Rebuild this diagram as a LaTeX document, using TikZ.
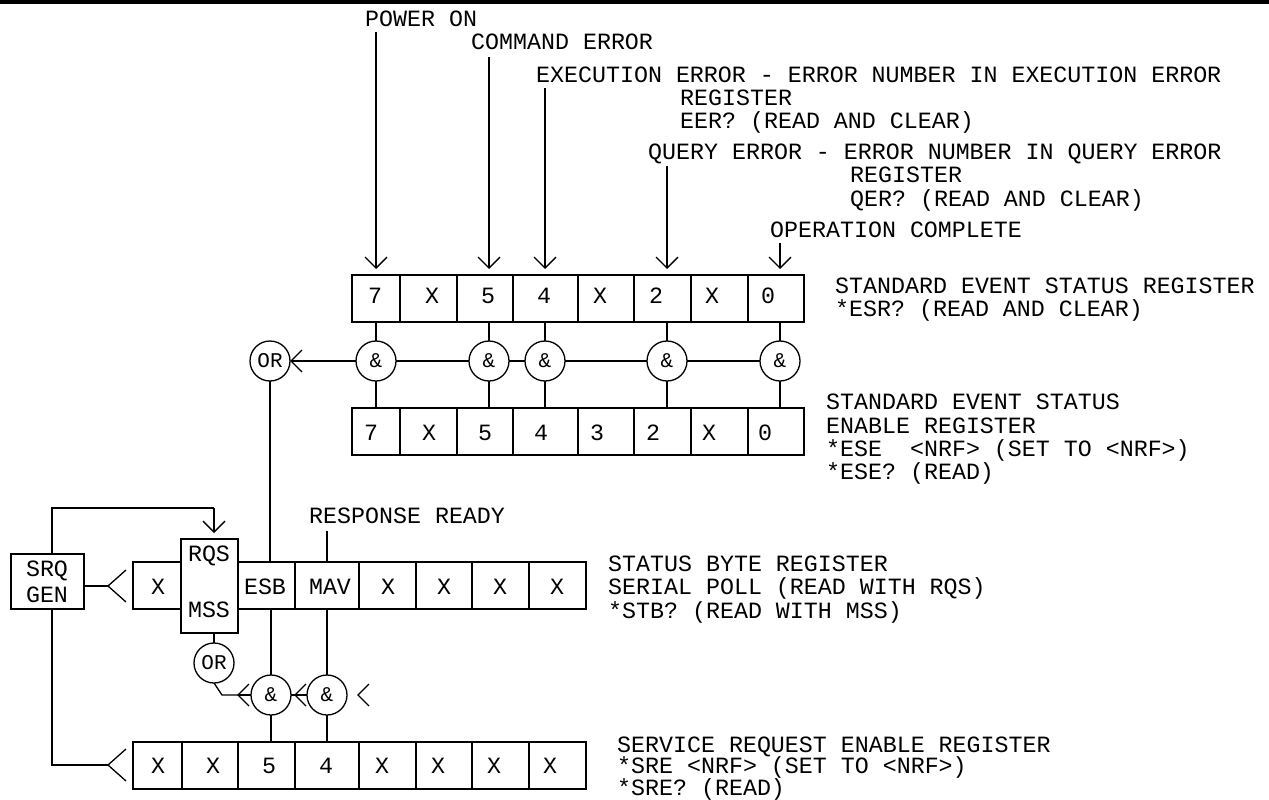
\documentclass[tikz,border=0pt]{standalone}
\usepackage{fontspec}
\setmainfont{Liberation Mono}
\usetikzlibrary{arrows.meta,calc}
\tikzset{
  wire/.style={line width=1.3pt,draw=black},
  arrowwire/.style={wire,-{Straight Barb[length=11pt,width=22pt,line width=1.3pt]}},
  stopshort/.style={arrowwire,shorten >=6pt},
  cellbox/.style={draw=black,line width=1.3pt,inner sep=0pt,outer sep=0pt,fill=white},
  gate/.style={circle,draw=black,line width=1.3pt,inner sep=0pt,outer sep=0pt,minimum size=40pt,fill=white,font=\fontsize{21}{21}\selectfont},
  txt/.style={inner sep=0pt,anchor=base west,font=\fontsize{23.3}{23.3}\selectfont},
  lab/.style={inner sep=0pt,anchor=center,font=\fontsize{23.3}{23.3}\selectfont},
}
% name, x0, x1, y0, y1
\newcommand{\rcell}[5]{\node[cellbox,minimum width={#3-#2},minimum height={#5-#4}] (#1) at ({(#2+#3)/2},{(#4+#5)/2}) {};}
\begin{document}
\begin{tikzpicture}[x=1pt,y=-1pt]
\useasboundingbox (0,0) rectangle (1269,800);
\fill[black] (0,0) rectangle (1269,4);
% top register
\rcell{ta}{352}{400}{275}{322}\rcell{tb}{400}{457}{275}{322}\rcell{tc}{457}{513}{275}{322}\rcell{td}{513}{578}{275}{322}
\rcell{te}{578}{634}{275}{322}\rcell{tf}{634}{691}{275}{322}\rcell{tg}{691}{748}{275}{322}\rcell{th}{748}{804}{275}{322}
% enable register
\rcell{ea}{352}{400}{408}{455}\rcell{eb}{400}{457}{408}{455}\rcell{ec}{457}{513}{408}{455}\rcell{ed}{513}{578}{408}{455}
\rcell{ee}{578}{634}{408}{455}\rcell{ef}{634}{691}{408}{455}\rcell{eg}{691}{748}{408}{455}\rcell{eh}{748}{804}{408}{455}
% status byte
\rcell{sa}{133}{182}{562}{609}\rcell{sc}{238}{295}{562}{609}\rcell{sd}{295}{359}{562}{609}\rcell{se}{359}{416}{562}{609}
\rcell{sf}{416}{472}{562}{609}\rcell{sg}{472}{529}{562}{609}\rcell{sh}{529}{586}{562}{609}
\rcell{rqs}{181}{238}{539}{633}
% service request enable
\rcell{ra}{133}{182}{742}{789}\rcell{rb}{182}{238}{742}{789}\rcell{rc}{238}{295}{742}{789}\rcell{rd}{295}{359}{742}{789}
\rcell{re}{359}{416}{742}{789}\rcell{rf}{416}{472}{742}{789}\rcell{rg}{472}{529}{742}{789}\rcell{rh}{529}{586}{742}{789}
\rcell{srq}{11}{84}{554}{609}
% gates
\node[gate] (g7) at (376,361) {\&};
\node[gate] (g5) at (489,361) {\&};
\node[gate] (g4) at (545,361) {\&};
\node[gate] (g2) at (667,361) {\&};
\node[gate] (g0) at (780,361) {\&};
\node[gate] (or1) at (270,361) {OR};
\node[gate] (or2) at (214,663) {OR};
\node[gate] (h5) at (271,695) {\&};
\node[gate] (h4) at (327,695) {\&};
% cell labels
\foreach \n/\x/\t in {a/375/7,b/432/X,c/488/5,d/544/4,e/600/X,f/656/2,g/712/X,h/768/0}
  \node[lab] (tl\n) at (\x,296) {\t};
\foreach \n/\x/\t in {a/371/7,b/429/X,c/485/5,d/541/4,e/597/3,f/653/2,g/709/X,h/765/0}
  \node[lab] (el\n) at (\x,433) {\t};
\foreach \n/\x/\t in {a/158/X,c/265/ESB,d/330/MAV,e/388/X,f/444/X,g/500/X,h/557/X}
  \node[lab] (sl\n) at (\x,587) {\t};
\foreach \n/\x/\t in {a/158/X,b/213/X,c/269/5,d/326/4,e/382/X,f/438/X,g/494/X,h/550/X}
  \node[lab] (rl\n) at (\x,766) {\t};
\node[lab] (rqsl) at (209,556) {RQS};
\node[lab] (mssl) at (209,610) {MSS};
\node[lab] (srql) at (47,571) {SRQ};
\node[lab] (genl) at (47,595) {GEN};
% texts
\node[txt] (tpower) at (365,27) {POWER ON};
\node[txt] (tcmd) at (471,50) {COMMAND ERROR};
\node[txt] (texe) at (536,82) {EXECUTION ERROR - ERROR NUMBER IN EXECUTION ERROR};
\node[txt] (texe2) at (680,105) {REGISTER};
\node[txt] (texe3) at (680,128) {EER? (READ AND CLEAR)};
\node[txt] (tq) at (648,159) {QUERY ERROR - ERROR NUMBER IN QUERY ERROR};
\node[txt] (tq2) at (850,182) {REGISTER};
\node[txt] (tq3) at (850,206) {QER? (READ AND CLEAR)};
\node[txt] (top) at (770,237) {OPERATION COMPLETE};
\node[txt] (tse) at (835,293) {STANDARD EVENT STATUS REGISTER};
\node[txt] (tse2) at (835,316) {*ESR? (READ AND CLEAR)};
\node[txt] (ten) at (826,409) {STANDARD EVENT STATUS};
\node[txt] (ten2) at (826,433) {ENABLE REGISTER};
\node[txt] (ten3) at (826,456) {*ESE~~<NRF> (SET TO <NRF>)};
\node[txt] (ten4) at (826,479) {*ESE? (READ)};
\node[txt] (tresp) at (309,523) {RESPONSE READY};
\node[txt] (tsb) at (608,571) {STATUS BYTE REGISTER};
\node[txt] (tsb2) at (608,594) {SERIAL POLL (READ WITH RQS)};
\node[txt] (tsb3) at (608,618) {*STB? (READ WITH MSS)};
\node[txt] (tsr) at (617,752) {SERVICE REQUEST ENABLE REGISTER};
\node[txt] (tsr2) at (617,773) {*SRE <NRF> (SET TO <NRF>)};
\node[txt] (tsr3) at (617,795) {*SRE? (READ)};
% free ends
\coordinate (c7) at (376,32);
\coordinate (c5) at (489,57);
\coordinate (c4) at (545,88);
\coordinate (c2) at (667,166);
\coordinate (c0) at (780,243);
\coordinate (cm) at (327,531);
\coordinate (cr) at (214,508);
\coordinate (cs) at (52,508);
\coordinate (cb) at (52,765);
\coordinate (cf1) at (108,586);
\coordinate (cf2) at (108,765);
\coordinate (cd) at (222,695);
\coordinate (cv1) at (238,695);
\coordinate (cv2) at (295,695);
\coordinate (cv3) at (358,695);
% arrows towards top register
\draw[stopshort] (c7) -- (c7 |- ta.north);
\draw[stopshort] (c5) -- (c5 |- tc.north);
\draw[stopshort] (c4) -- (c4 |- td.north);
\draw[stopshort] (c2) -- (c2 |- tf.north);
\draw[stopshort] (c0) -- (c0 |- th.north);
% gates to registers
\foreach \g/\t/\e in {g7/ta/ea,g5/tc/ec,g4/td/ed,g2/tf/ef,g0/th/eh}{
  \draw[wire] (\g.north) -- (\g.north |- \t.south);
  \draw[wire] (\g.south) -- (\g.south |- \e.north);
}
\draw[wire] (g5.east) -- (g4.west);
\draw[wire] (g7.east) -- (g5.west);
\draw[wire] (g4.east) -- (g2.west);
\draw[wire] (g2.east) -- (g0.west);
\draw[arrowwire] (g7.west) -- (or1.east);
\draw[wire] (or1.south) -- (or1.south |- sc.north);
\draw[wire] (cm) -- (cm |- sd.north);
% SRQ
\draw[wire] (cs |- srq.north) -- (cs) -- (cr);
\draw[stopshort] (cr) -- (cr |- rqs.north);
\draw[wire] (srq.east |- cf1) -- (cf1);
\draw[wire] (cf1) ++(18,-16) -- (cf1) -- ++(18,16);
\draw[wire] (cs |- srq.south) -- (cb) -- (cf2);
\draw[wire] (cf2) ++(18,-16) -- (cf2) -- ++(18,16);
\draw[wire] (or2.north) -- (or2.north |- rqs.south);
\draw[wire] (or2.south) -- (cd) -- (cv1);
\draw[wire] (cv1) -- (h5.west);
\draw[wire] (cv1) ++(11,-11) -- (cv1) -- ++(11,11);
\draw[wire] (h5.east) -- (h4.west);
\draw[wire] (cv2) ++(11,-11) -- (cv2) -- ++(11,11);
\draw[wire] (cv3) ++(11,-11) -- (cv3) -- ++(11,11);
\draw[wire] (h5.north) -- (h5.north |- sc.south);
\draw[wire] (h4.north) -- (h4.north |- sd.south);
\draw[wire] (h5.south) -- (h5.south |- rc.north);
\draw[wire] (h4.south) -- (h4.south |- rd.north);
\end{tikzpicture}
\end{document}
